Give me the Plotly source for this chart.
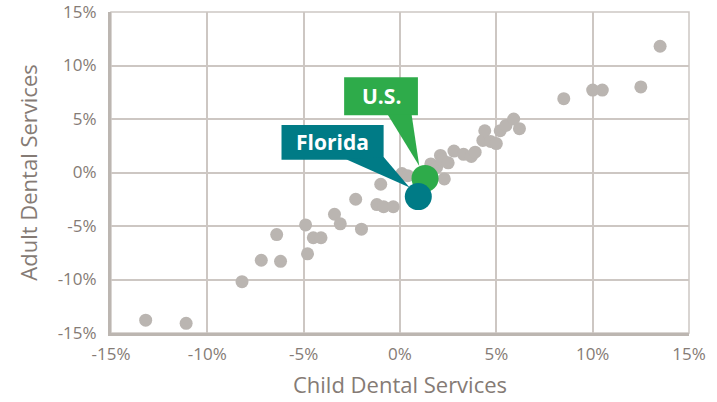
import plotly.graph_objects as go

# Data (percent change)
gray_x = [-13.2, -11.1, -8.2, -7.2, -6.2, -6.4, -4.9, -4.8, -4.5, -4.1, -3.4, -3.1,
          -2.3, -2.0, -1.2, -0.85, -0.35, -1.0, 0.1, 0.4, 1.6, 1.9, 2.1, 2.2, 2.5,
          2.3, 2.8, 3.3, 3.7, 3.9, 4.3, 4.4, 4.7, 5.0, 5.2, 5.5, 5.9, 6.2, 8.5,
          10.0, 10.5, 12.5, 13.5]
gray_y = [-13.8, -14.1, -10.2, -8.2, -8.3, -5.8, -4.9, -7.6, -6.1, -6.1, -3.9, -4.8,
          -2.5, -5.3, -3.0, -3.2, -3.2, -1.1, -0.1, -0.3, 0.8, 0.5, 1.6, 1.2, 0.9,
          -0.6, 2.0, 1.7, 1.5, 1.9, 3.0, 3.9, 2.9, 2.7, 3.9, 4.4, 5.0, 4.1, 6.9,
          7.7, 7.7, 8.0, 11.8]
us_x, us_y = [1.3], [-0.55]
fl_x, fl_y = [0.95], [-2.25]
tick_vals = [-15, -10, -5, 0, 5, 10, 15]
tick_text = ["-15%", "-10%", "-5%", "0%", "5%", "10%", "15%"]

GRAY = "#bab5b1"
GREEN = "#2eab4a"
TEAL = "#007b86"
TXT = "#857b75"
GRID = "#cdc7c3"

fig = go.Figure()
fig.add_trace(go.Scatter(x=gray_x, y=gray_y, mode="markers",
                         marker=dict(size=13, color=GRAY), hoverinfo="skip"))
fig.add_trace(go.Scatter(x=us_x, y=us_y, mode="markers",
                         marker=dict(size=27, color=GREEN)))
fig.add_trace(go.Scatter(x=fl_x, y=fl_y, mode="markers",
                         marker=dict(size=27, color=TEAL)))

# Callout boxes (data coordinates relative to the highlighted points)
def callout(px, py, box, tail, color, text, fs):
    x0, x1, y0, y1 = box
    fig.add_shape(type="rect", xref="x", yref="y", x0=x0, x1=x1, y0=y0, y1=y1,
                  fillcolor=color, line=dict(width=0), layer="above")
    (ax, ay), (bx, by), (tx, ty) = tail
    fig.add_shape(type="path", xref="x", yref="y",
                  path=f"M {ax} {ay} L {bx} {by} L {tx} {ty} Z",
                  fillcolor=color, line=dict(width=0), layer="above")
    fig.add_annotation(x=(x0 + x1) / 2, y=(y0 + y1) / 2, xref="x", yref="y",
                       text=f"<b>{text}</b>", showarrow=False,
                       font=dict(family="Open Sans", size=fs, color="white"))

ux, uy = us_x[0], us_y[0]
callout(ux, uy, (ux - 4.2, ux - 0.37, uy + 5.9, uy + 9.45),
        [(ux - 1.95, uy + 6.0), (ux - 0.7, uy + 6.0), (ux - 0.3, uy + 1.15)],
        GREEN, "U.S.", 21)
fx, fy = fl_x[0], fl_y[0]
callout(fx, fy, (fx - 7.1, fx - 1.8, fy + 3.45, fy + 6.7),
        [(fx - 3.75, fy + 3.5), (fx - 1.8, fy + 3.7), (fx - 0.45, fy + 0.85)],
        TEAL, "Florida", 21)

axis_common = dict(tickvals=tick_vals, ticktext=tick_text, showgrid=True,
                   gridcolor=GRID, gridwidth=1.5, zeroline=True,
                   zerolinecolor=GRID, zerolinewidth=1.5, showline=True,
                   linecolor="#bcb6b1", linewidth=3, ticks="",
                   ticklabeloverflow="allow",
                   tickfont=dict(family="Open Sans", size=17, color=TXT),
                   range=[-15, 15], fixedrange=True, automargin=False)

fig.update_layout(
    width=717, height=402, showlegend=False,
    plot_bgcolor="white", paper_bgcolor="white",
    margin=dict(l=111, r=28, t=12, b=69, autoexpand=False),
    xaxis=dict(**axis_common,
               title=dict(text="Child Dental Services", standoff=14,
                          font=dict(family="Open Sans", size=22, color=TXT))),
    yaxis=dict(**axis_common,
               title=dict(text="Adult Dental Services", standoff=14,
                          font=dict(family="Open Sans", size=22, color=TXT))),
)
fig.update_xaxes(ticklabelstandoff=4)
fig.update_yaxes(ticklabelstandoff=8)
# top/right borders
fig.add_shape(type="rect", xref="paper", yref="paper", x0=0, x1=1, y0=0, y1=1,
              line=dict(color=GRID, width=1.5), layer="below")

fig.write_html("out.html", config={"displayModeBar": False},
               post_script="document.body.style.margin='0';document.body.style.overflow='hidden';")
